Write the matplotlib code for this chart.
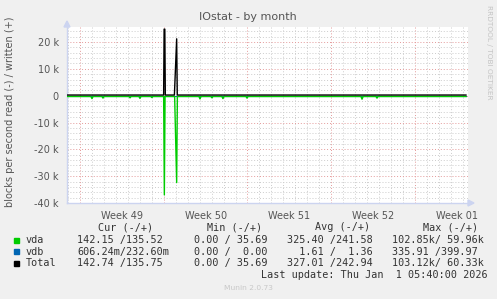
import matplotlib
matplotlib.use("Agg")
import matplotlib.pyplot as plt
from matplotlib.patches import Rectangle, Polygon
import numpy as np

# ---- data (days from left edge of graph, blocks/s) ----
read_t = [0.00, 2.00, 2.09, 2.18, 2.92, 3.01, 3.10, 5.18, 5.27, 5.36, 6.01, 6.10, 6.19,
          7.01, 7.10, 7.19, 8.08, 8.14, 8.20, 9.00, 9.17, 9.23, 11.03, 11.12, 11.21,
          12.03, 12.12, 12.21, 12.95, 13.04, 13.13, 14.96, 15.05, 15.14, 24.58, 24.67,
          24.76, 25.83, 25.92, 26.01, 33.36]
vda_read = [300, 300, 1100, 300, 300, 900, 300, 300, 800, 300, 300, 1000, 300,
            300, 700, 300, 300, 37000, 300, 300, 32400, 300, 300, 1200, 300,
            300, 800, 300, 300, 1100, 300, 300, 900, 300, 300, 1300,
            300, 300, 900, 300, 300]
write_t = [0.00, 8.08, 8.12, 8.18, 8.22, 8.98, 9.17, 9.22, 33.36]
total_write = [240, 240, 24800, 24800, 240, 240, 21200, 240, 240]
vdb_t = [0.00, 33.36]
vdb_vals = [1.5, 1.5]

week_labels = ["Week 49", "Week 50", "Week 51", "Week 52", "Week 01"]
first_monday = 1.09
ytick_vals = [-40000, -30000, -20000, -10000, 0, 10000, 20000]
ytick_labels = ["-40 k", "-30 k", "-20 k", "-10 k", "0", "10 k", "20 k"]

legend_names = ["vda", "vdb", "Total"]
legend_colors = ["#00CC00", "#0066B3", "#000000"]
cur_col = ["142.15 /135.52", "606.24m/232.60m", "142.74 /135.75"]
min_col = ["0.00 / 35.69", "0.00 /  0.00", "0.00 / 35.69"]
avg_col = ["325.40 /241.58", "  1.61 /  1.36", "327.01 /242.94"]
max_col = ["102.85k/ 59.96k", "335.91 /399.97", "103.12k/ 60.33k"]

W, H = 497, 299
fig = plt.figure(figsize=(W / 100, H / 100), dpi=100, facecolor="#F0F0F0")

def fx(px):
    return px / W

def fy(py):
    return 1 - py / H

ax = fig.add_axes([fx(67), fy(203), fx(468) - fx(67), fy(27) - fy(203)])
ax.set_facecolor("white")
ax.set_xlim(0, 33.53)
ax.set_ylim(-40000, 25600)

# grid
ax.set_yticks(ytick_vals)
ax.set_yticklabels(ytick_labels)
ax.set_yticks(np.arange(-40000, 25601, 2000), minor=True)
mondays = [first_monday + 7 * k for k in range(5)]
ax.set_xticks(mondays)
ax.set_xticklabels([])
ax.set_xticks([first_monday - 1 + k for k in range(0, 34)], minor=True)
ax.grid(which="minor", color="#cccccc", linestyle=(0, (1, 2)), linewidth=0.7)
ax.grid(which="major", color="#e49a9a", linestyle=(0, (1, 2)), linewidth=0.7)
ax.set_axisbelow(True)
ax.tick_params(which="both", length=0)
ax.tick_params(axis="y", labelsize=7, labelcolor="#555555", pad=6)
for s in ["top", "right"]:
    ax.spines[s].set_visible(False)
for s in ["left", "bottom"]:
    ax.spines[s].set_color("#ccd4f0")
    ax.spines[s].set_linewidth(1)

for i, lab in enumerate(week_labels):
    ax.text(first_monday + 3.5 + 7 * i, -0.045, lab, transform=ax.get_xaxis_transform(),
            ha="center", va="top", fontsize=7, color="#555555")

# data
ax.plot(vdb_t, vdb_vals, color="#0066B3", lw=0.8, zorder=2)
ax.plot(read_t, [-v for v in vda_read], color="#00CC00", lw=1, zorder=3)
ax.plot(write_t, total_write, color="#000000", lw=1, zorder=4)

# axis arrows
fig.patches.append(Polygon([[fx(64), fy(27)], [fx(70), fy(27)], [fx(67), fy(21)]],
                           closed=True, transform=fig.transFigure, color="#ccd4f0"))
fig.patches.append(Polygon([[fx(468), fy(200)], [fx(468), fy(206)], [fx(474), fy(203)]],
                           closed=True, transform=fig.transFigure, color="#ccd4f0"))

# texts
fig.text(fx(248), fy(17), "IOstat - by month", ha="center", va="center",
         fontsize=8, color="#555555")
fig.text(fx(10), fy(112), "blocks per second read (-) / written (+)", rotation=90,
         ha="center", va="center", fontsize=7, color="#555555")
fig.text(fx(489), fy(52), "RRDTOOL / TOBI OETIKER", rotation=-90, ha="center",
         va="center", fontsize=5.3, color="#c4c4c4")

mono = dict(family="DejaVu Sans Mono", fontsize=7.3, color="#333333", va="center")
fig.text(fx(98), fy(227), "Cur (-/+)", **mono)
fig.text(fx(207), fy(227), "Min (-/+)", **mono)
fig.text(fx(315), fy(227), "Avg (-/+)", **mono)
fig.text(fx(423), fy(227), "Max (-/+)", **mono)
rows_y = [240, 251.7, 263.3]
for i in range(3):
    y = rows_y[i]
    fig.patches.append(Rectangle((fx(14), fy(y + 2.5)), fx(5), fy(0) - fy(5),
                                 transform=fig.transFigure, color=legend_colors[i]))
    fig.text(fx(26), fy(y), legend_names[i], **mono)
    fig.text(fx(77), fy(y), cur_col[i], **mono)
    fig.text(fx(194), fy(y), min_col[i], **mono)
    fig.text(fx(287), fy(y), avg_col[i], **mono)
    fig.text(fx(392), fy(y), max_col[i], **mono)
fig.text(fx(261), fy(275.3), "Last update: Thu Jan  1 05:40:00 2026", **mono)
fig.text(fx(248), fy(288.3), "Munin 2.0.73", ha="center", va="center",
         fontsize=5.4, color="#c8c8c8")

fig.savefig("out.png", dpi=100, facecolor=fig.get_facecolor())
